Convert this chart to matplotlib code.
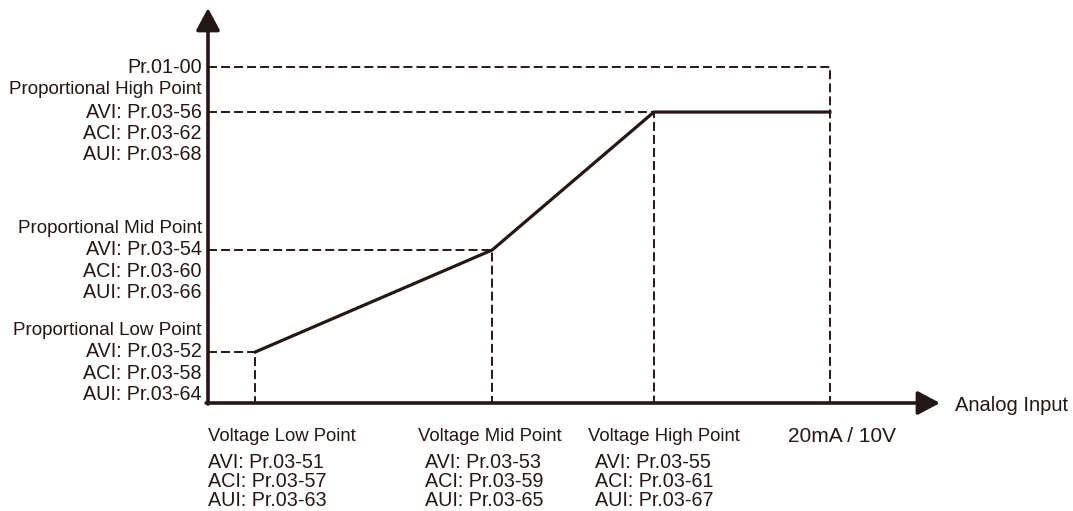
import matplotlib.pyplot as plt

plt.rcParams['font.family'] = ['Liberation Sans', 'DejaVu Sans']
ink = '#231815'

# analog input (% of full scale) and output (% of Pr.01-00) at the three setpoints + full scale
input_pts = [7.6, 45.7, 71.7, 100]
output_pts = [15.2, 45.6, 86.7, 86.7]
out_max = 100

left_headers = ['Proportional Low Point', 'Proportional Mid Point', 'Proportional High Point']
left_params = [['AVI: Pr.03-52', 'ACI: Pr.03-58', 'AUI: Pr.03-64'],
               ['AVI: Pr.03-54', 'ACI: Pr.03-60', 'AUI: Pr.03-66'],
               ['AVI: Pr.03-56', 'ACI: Pr.03-62', 'AUI: Pr.03-68']]
bottom_headers = ['Voltage Low Point', 'Voltage Mid Point', 'Voltage High Point']
bottom_params = [['AVI: Pr.03-51', 'ACI: Pr.03-57', 'AUI: Pr.03-63'],
                 ['AVI: Pr.03-53', 'ACI: Pr.03-59', 'AUI: Pr.03-65'],
                 ['AVI: Pr.03-55', 'ACI: Pr.03-61', 'AUI: Pr.03-67']]
bottom_x = [0, 33.8, 61.1]
bottom_indent = [0, 1.1, 1.1]

fig = plt.figure(figsize=(10.73, 5.11), dpi=100)
ax = fig.add_axes([208 / 1073, 108 / 511, 732 / 1073, 395 / 511])
lim = 117.7
ax.set_xlim(0, lim)
ax.set_ylim(0, lim)
ax.axis('off')

dash = dict(color=ink, lw=1.4, linestyle=(0, (4.6, 2.1)), clip_on=False)

# dashed guides
ax.plot([0, input_pts[-1], input_pts[-1]], [out_max, out_max, 0], **dash)
for x, y in zip(input_pts[:3], output_pts[:3]):
    ax.plot([0, x, x], [y, y, 0], **dash)

# response curve
ax.plot(input_pts, output_pts, color=ink, lw=2.3, solid_joinstyle='miter', clip_on=False, zorder=3)

# axes with arrows
arrow = dict(arrowstyle='-|>,head_length=0.45,head_width=0.24', lw=2.6, color=ink,
             mutation_scale=30, shrinkA=0, shrinkB=0)
ax.annotate('', xy=(lim, 0), xytext=(-0.3, 0), arrowprops=arrow, annotation_clip=False)
ax.annotate('', xy=(0, lim), xytext=(0, -0.3), arrowprops=arrow, annotation_clip=False)

fs_head = 13.6
fs_par = 14.2
step = 6.3
lx = -1.0
ax.text(lx, out_max, 'Pr.01-00', ha='right', va='center', fontsize=fs_par, color=ink)
for y, head, params in zip(output_pts[:3], left_headers, left_params):
    ax.text(lx, y + step * (1.05 if head.endswith('High Point') else 1.0), head,
            ha='right', va='center', fontsize=fs_head, color=ink)
    for i, p in enumerate(params):
        ax.text(lx, y - i * step, p, ha='right', va='center', fontsize=fs_par, color=ink)

for x, ind, head, params in zip(bottom_x, bottom_indent, bottom_headers, bottom_params):
    ax.text(x, -10.1, head, ha='left', va='center', fontsize=13.3, color=ink)
    for i, p in enumerate(params):
        ax.text(x + ind, -17.8 - i * 5.7, p, ha='left', va='center', fontsize=fs_par, color=ink)

ax.text(93.2, -10.1, '20mA / 10V', ha='left', va='center', fontsize=15, color=ink)
ax.text(120.1, -0.6, 'Analog Input', ha='left', va='center', fontsize=14.5, color=ink)

fig.savefig('out.png', dpi=100)
